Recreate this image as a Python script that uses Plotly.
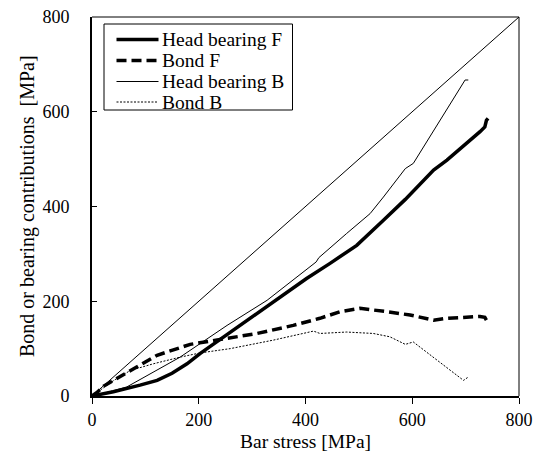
import plotly.graph_objects as go

# ---- data ----
hbF_x = [0, 10, 40, 90, 122, 150, 178, 203, 259, 334, 402, 446, 496, 546, 587, 640, 665, 727, 736, 739, 742]
hbF_y = [0, 2, 9, 23, 33, 48, 68, 90, 135, 195, 248, 280, 318, 371, 415, 477, 498, 558, 568, 582, 586]

bF_x = [0, 10, 22, 72, 122, 184, 240, 309, 377, 427, 465, 502, 552, 596, 640, 665, 727, 736, 741]
bF_y = [0, 8, 21, 54, 86, 109, 119, 132, 149, 164, 178, 185, 178, 171, 160, 164, 168, 166, 156]

hbB_x = [0, 20, 65, 165, 253, 328, 420, 425, 477, 521, 546, 587, 602, 699, 705]
hbB_y = [0, 5, 19, 82, 149, 202, 283, 292, 343, 385, 420, 480, 491, 667, 667]

bB_x = [0, 15, 41, 72, 115, 165, 203, 259, 340, 415, 427, 477, 527, 558, 587, 602, 696, 705]
bB_y = [0, 12, 33, 54, 68, 82, 91, 100, 118, 137, 132, 135, 132, 125, 109, 114, 33, 40]

diag_x = [0, 800]
diag_y = [0, 800]

legend_names = ["Head bearing F", "Bond F", "Head bearing B", "Bond B"]
x_ticks = [0, 200, 400, 600, 800]
y_ticks = [0, 200, 400, 600, 800]
x_title = "Bar stress [MPa]"
y_title = "Bond or bearing contributions  [MPa]"

# ---- layout constants (pixels) ----
W, H = 539, 453
ML, MR, MT, MB = 92, 20, 17, 57
PW, PH = W - ML - MR, H - MT - MB

def px(x):
    return (x - ML) / PW

def py(y):
    return (H - MB - y) / PH

FONT = "Liberation Serif"

styles = [
    dict(width=3.5, dash="solid"),
    dict(width=3.5, dash="10px,5px"),
    dict(width=1, dash="solid"),
    dict(width=1, dash="2px,1.5px"),
]

fig = go.Figure()
fig.add_trace(go.Scatter(x=diag_x, y=diag_y, mode="lines",
                         line=dict(color="black", width=1), showlegend=False))
for xs, ys, name, st in zip([hbF_x, bF_x, hbB_x, bB_x], [hbF_y, bF_y, hbB_y, bB_y],
                            legend_names, styles):
    fig.add_trace(go.Scatter(x=xs, y=ys, mode="lines", name=name,
                             line=dict(color="black", **st), showlegend=False))

# manual legend
shapes = []
annotations = []
shapes.append(dict(type="rect", xref="paper", yref="paper",
                   x0=px(104), x1=px(292.5), y0=py(110), y1=py(24),
                   line=dict(color="black", width=1), fillcolor="white", layer="above"))
rows = [39.5, 60.5, 81.5, 102]
for name, st, r in zip(legend_names, styles, rows):
    shapes.append(dict(type="line", xref="paper", yref="paper",
                       x0=px(116.5), x1=px(158.5), y0=py(r), y1=py(r),
                       line=dict(color="black", width=st["width"], dash=st["dash"]),
                       layer="above"))
    annotations.append(dict(xref="paper", yref="paper", x=px(160.5), y=py(r),
                            text=name, showarrow=False, xanchor="left", yanchor="middle",
                            borderpad=0,
                            font=dict(family=FONT, size=19.5, color="black")))

# axis titles
annotations.append(dict(xref="paper", yref="paper", x=px(305.5), y=py(441.5),
                        text=x_title, showarrow=False, xanchor="center", yanchor="middle",
                        borderpad=0, font=dict(family=FONT, size=19.5, color="black")))
annotations.append(dict(xref="paper", yref="paper", x=px(27), y=py(206),
                        text=y_title, showarrow=False, xanchor="center", yanchor="middle",
                        textangle=-90, borderpad=0,
                        font=dict(family=FONT, size=20, color="black")))

# top and right thin borders
shapes.append(dict(type="line", xref="paper", yref="paper", x0=0, x1=1, y0=1, y1=1,
                   line=dict(color="black", width=1)))
shapes.append(dict(type="line", xref="paper", yref="paper", x0=1, x1=1, y0=0, y1=1,
                   line=dict(color="black", width=1)))

fig.update_layout(
    width=W, height=H,
    margin=dict(l=ML, r=MR, t=MT, b=MB, autoexpand=False),
    paper_bgcolor="white", plot_bgcolor="white",
    font=dict(family=FONT, size=18, color="black"),
    shapes=shapes, annotations=annotations,
    showlegend=False,
)
fig.update_xaxes(range=[0, 800], tickvals=x_ticks, ticks="outside", ticklen=6,
                 tickwidth=1, tickcolor="black", showline=True, linecolor="black",
                 linewidth=2, showgrid=False, zeroline=False, automargin=False,
                 tickfont=dict(family=FONT, size=18))
fig.update_yaxes(range=[0, 800], tickvals=y_ticks, ticks="inside", ticklen=5,
                 tickwidth=1, tickcolor="black", showline=True, linecolor="black",
                 linewidth=2, showgrid=False, zeroline=False, automargin=False,
                 tickfont=dict(family=FONT, size=18), ticklabelstandoff=17)

fig.write_html("out.html")
